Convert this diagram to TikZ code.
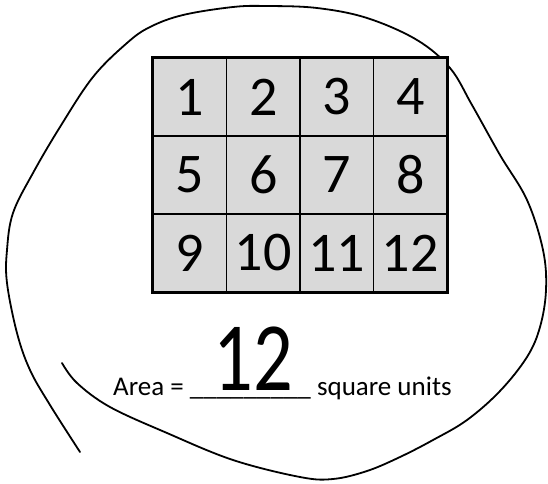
\documentclass[tikz,border=0pt]{standalone}
\usepackage{fontspec}
\setmainfont{Carlito}
\usetikzlibrary{positioning}

\begin{document}
\begin{tikzpicture}[x=1pt,y=-1pt]

% --- STYLES ---
\tikzset{
  cell/.style={draw=black, line width=1.2pt, fill=black!15,
               minimum width=73.5pt, minimum height=78pt, inner sep=0pt,
               font=\fontsize{56}{56}\selectfont},
  frame/.style={draw=black, line width=3.5pt},
  outline/.style={black, line width=1.8pt, line cap=round, line join=round},
  caption/.style={font=\fontsize{27}{27}\selectfont, inner sep=0pt, anchor=base west},
  answer/.style={font=\fontsize{98}{98}\selectfont, inner sep=0pt, anchor=base, xscale=0.8},
}

\useasboundingbox (0,0) rectangle (548,483);

% ================= HAND-DRAWN LOOP =================
\draw[outline] plot[smooth, tension=0.6] coordinates {
  (62,363) (77,383) (110,407) (167,433) (233,460) (300,477) (333,479)
  (367,471) (400,457) (433,440) (467,420) (500,391) (527,357) (540,327)
  (546,290) (543,250) (527,200) (500,155) (472,105) (450,68) (417,40)
  (367,18) (317,8) (267,6) (233,7) (183,15) (150,27) (127,43) (93,77)
  (60,127) (33,173) (13,213) (7,250) (7,283) (17,333) (30,370) (50,405)
  (80,452)};

% ================= GRID OF UNIT SQUARES =================
\foreach \n [count=\i from 0] in {1,...,12} {
  \pgfmathtruncatemacro{\col}{mod(\i,4)}
  \pgfmathtruncatemacro{\row}{div(\i,4)}
  \node[cell] (c\n) at (189.75+73.5*\col, 97+78*\row) {\n};
}
\draw[frame] (c1.north west) rectangle (c12.south east);

% ================= AREA LINE =================
\node[caption] (area) at (113,395) {Area = \_\_\_\_\_\_\_\_\_ square units};
\node[answer] (ans) at (253,390) {12};

\end{tikzpicture}
\end{document}
